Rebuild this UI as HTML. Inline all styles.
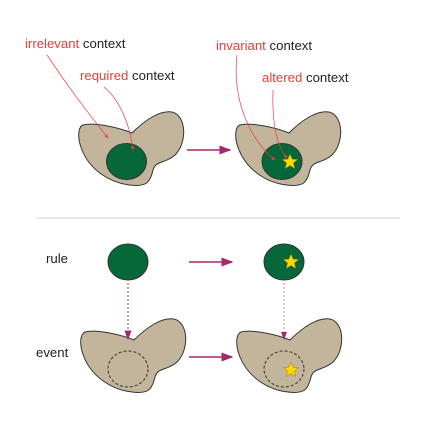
<!DOCTYPE html>
<html><head><meta charset="utf-8"><style>
html,body{margin:0;padding:0;background:#fff}
svg{display:block}
text{font-family:"Liberation Sans",sans-serif;font-size:13.2px;fill:#222}
.r{fill:#ee3b3b}
</style></head><body>
<svg width="432" height="422" viewBox="0 0 432 422">
<defs>
<marker id="ah" markerWidth="8" markerHeight="6" refX="7" refY="3" orient="auto"><path d="M0,0 L8,3 L0,6 Z" fill="#a3286f"/></marker>
<marker id="rh" markerWidth="6" markerHeight="5" refX="5" refY="2.5" orient="auto"><path d="M0,0 L6,2.5 L0,5 Z" fill="#ee3b3b"/></marker>
<path id="blob" d="M83 125 C95 122,120 128,132 133 C145 120,160 110,172 112 C186 115,188 142,175 155 C165 164,156 160,153 170 C150 183,146 187,130 185 C110 183,90 170,82 150 C77 138,78 127,83 125 Z" fill="#c3b59b" stroke="#333" stroke-width="1"/>
<polygon id="star" points="0,-8 2.2,-2.8 7.6,-2.5 3.4,1 4.8,6.5 0,3.5 -4.8,6.5 -3.4,1 -7.6,-2.5 -2.2,-2.8" fill="#ffd800" stroke="#8a7a20" stroke-width="0.5"/>
</defs>

<g>
<use href="#blob"/>
<ellipse cx="126.5" cy="161.5" rx="20" ry="18" fill="#066838" stroke="#333" stroke-width="1"/>
</g>
<g>
<use href="#blob" transform="translate(157,0)"/>
<ellipse cx="282" cy="161.5" rx="20" ry="18" fill="#066838" stroke="#333" stroke-width="1"/>
<use href="#star" x="290" y="162"/>
</g>
<line x1="187" y1="150" x2="230" y2="150" stroke="#a3286f" stroke-width="1.5" marker-end="url(#ah)"/>

<text x="25" y="48"><tspan class="r">irrelevant</tspan> context</text>
<text x="80" y="80"><tspan class="r">required</tspan> context</text>
<text x="216" y="50"><tspan class="r">invariant</tspan> context</text>
<text x="262" y="82"><tspan class="r">altered</tspan> context</text>
<g fill="none" stroke="#ee3b3b" stroke-width="0.7">
<path d="M47 55 C70 90,90 115,108 138" marker-end="url(#rh)"/>
<path d="M104 87 C120 100,130 125,133 150" marker-end="url(#rh)"/>
<path d="M237 55 C232 100,250 140,275 160" marker-end="url(#rh)"/>
<path d="M273 90 C272 120,276 145,287 158" marker-end="url(#rh)"/>
</g>

<line x1="36" y1="218" x2="400" y2="218" stroke="#e2e2e2" stroke-width="1.5"/>

<text x="46" y="263">rule</text>
<text x="36" y="357">event</text>

<ellipse cx="128" cy="262" rx="20" ry="18" fill="#066838" stroke="#333" stroke-width="1"/>
<g>
<ellipse cx="284" cy="262" rx="20" ry="18" fill="#066838" stroke="#333" stroke-width="1"/>
<use href="#star" x="291" y="262"/>
</g>
<line x1="189" y1="262" x2="232" y2="262" stroke="#a3286f" stroke-width="1.5" marker-end="url(#ah)"/>

<g>
<use href="#blob" transform="translate(2,207)"/>
<ellipse cx="128" cy="369" rx="20" ry="18" fill="none" stroke="#333" stroke-width="1" stroke-dasharray="3,2"/>
</g>
<g>
<use href="#blob" transform="translate(158,207)"/>
<ellipse cx="284" cy="369" rx="20" ry="18" fill="none" stroke="#333" stroke-width="1" stroke-dasharray="3,2"/>
<use href="#star" x="291" y="370"/>
</g>
<line x1="189" y1="357" x2="232" y2="357" stroke="#a3286f" stroke-width="1.5" marker-end="url(#ah)"/>

<line x1="128" y1="283" x2="128" y2="339" stroke="#c0509a" stroke-width="1.2" stroke-dasharray="2,2" marker-end="url(#ah)"/>
<line x1="284" y1="283" x2="284" y2="339" stroke="#d080b0" stroke-width="1" stroke-dasharray="2,2" marker-end="url(#ah)"/>
</svg>
</body></html>
